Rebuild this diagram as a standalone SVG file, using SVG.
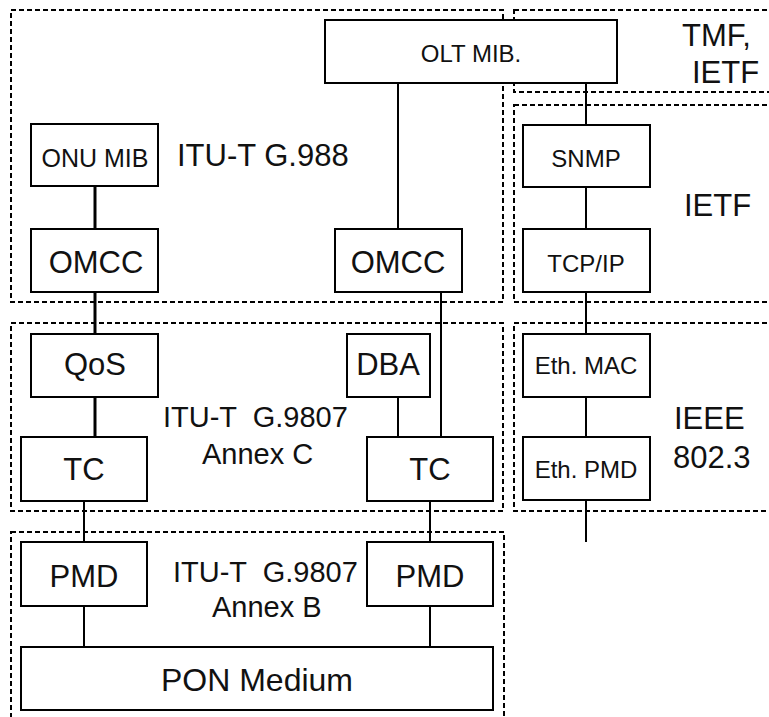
<svg xmlns="http://www.w3.org/2000/svg" width="769" height="717" viewBox="0 0 769 717">
<style>
.grp{fill:none;stroke:#000;stroke-width:2;stroke-dasharray:5 3}
.box{fill:#fff;stroke:#000;stroke-width:2}
.ln{fill:none;stroke:#000;stroke-width:2}
.lnb{fill:none;stroke:#000;stroke-width:3}
text{font-family:"Liberation Sans",Arial,sans-serif;fill:#111}
.s{font-size:24px;text-anchor:middle}
.m{font-size:31px;text-anchor:middle}
.l{font-size:31px}
.g{font-size:29px}
</style>
<rect width="769" height="717" fill="#fff"/>
<g id="groups">
<rect class="grp" x="11" y="10" width="492" height="292"/>
<rect class="grp" x="514" y="10" width="280" height="82"/>
<rect class="grp" x="514" y="105" width="280" height="197"/>
<rect class="grp" x="11" y="323" width="492" height="188"/>
<rect class="grp" x="514" y="323" width="280" height="188"/>
<rect class="grp" x="11" y="532" width="493" height="200"/>
</g>
<g id="connectors">
<line class="lnb" x1="95" y1="186" x2="95" y2="229"/>
<line class="lnb" x1="95" y1="292" x2="95" y2="334"/>
<line class="lnb" x1="95" y1="397" x2="95" y2="437"/>
<line class="ln" x1="84" y1="501" x2="84" y2="542"/>
<line class="ln" x1="84" y1="606" x2="84" y2="647"/>
<line class="ln" x1="398" y1="83" x2="398" y2="229"/>
<line class="ln" x1="441" y1="292" x2="441" y2="437"/>
<line class="ln" x1="398" y1="397" x2="398" y2="437"/>
<line class="ln" x1="430" y1="501" x2="430" y2="542"/>
<line class="ln" x1="430" y1="606" x2="430" y2="647"/>
<line class="ln" x1="586" y1="83" x2="586" y2="125"/>
<line class="ln" x1="586" y1="187" x2="586" y2="229"/>
<line class="ln" x1="586" y1="292" x2="586" y2="334"/>
<line class="ln" x1="586" y1="397" x2="586" y2="437"/>
<line class="ln" x1="586" y1="500" x2="586" y2="542"/>
</g>
<g id="olt-mib"><rect class="box" x="325" y="20" width="292" height="63"/><text class="s" x="471" y="62">OLT MIB.</text></g>
<g id="onu-mib"><rect class="box" x="31" y="124" width="127" height="62"/><text class="s" x="95" y="167" style="font-size:25px">ONU MIB</text></g>
<g id="omcc-left"><rect class="box" x="31" y="229" width="127" height="63"/><text class="m" x="96" y="273">OMCC</text></g>
<g id="omcc-right"><rect class="box" x="335" y="229" width="127" height="63"/><text class="m" x="398" y="273">OMCC</text></g>
<g id="snmp"><rect class="box" x="523" y="125" width="127" height="62"/><text class="s" x="586" y="167">SNMP</text></g>
<g id="tcpip"><rect class="box" x="523" y="229" width="127" height="63"/><text class="s" x="586" y="272">TCP/IP</text></g>
<g id="qos"><rect class="box" x="31" y="334" width="127" height="63"/><text class="m" x="95" y="375">QoS</text></g>
<g id="dba"><rect class="box" x="347" y="334" width="83" height="63"/><text class="m" x="388" y="375">DBA</text></g>
<g id="tc-left"><rect class="box" x="21" y="437" width="126" height="64"/><text class="m" x="84" y="480">TC</text></g>
<g id="tc-right"><rect class="box" x="367" y="437" width="126" height="64"/><text class="m" x="430" y="480">TC</text></g>
<g id="eth-mac"><rect class="box" x="523" y="334" width="127" height="63"/><text class="s" x="586" y="374">Eth. MAC</text></g>
<g id="eth-pmd"><rect class="box" x="523" y="437" width="127" height="63"/><text class="s" x="586" y="478">Eth. PMD</text></g>
<g id="pmd-left"><rect class="box" x="21" y="542" width="126" height="64"/><text class="m" x="84" y="587">PMD</text></g>
<g id="pmd-right"><rect class="box" x="367" y="542" width="126" height="64"/><text class="m" x="430" y="587">PMD</text></g>
<g id="pon-medium"><rect class="box" x="21" y="647" width="472" height="63"/><text class="m" x="257" y="691" style="font-size:32px">PON Medium</text></g>
<g id="labels">
<text class="l" x="177" y="166">ITU-T G.988</text>
<text class="l" x="682" y="46">TMF,</text>
<text class="l" x="692" y="83">IETF</text>
<text class="l" x="684" y="216">IETF</text>
<text class="g" x="163" y="427" xml:space="preserve">ITU-T  G.9807</text>
<text class="g" x="202" y="464">Annex C</text>
<text class="l" x="674" y="429">IEEE</text>
<text class="l" x="673" y="468">802.3</text>
<text class="g" x="173" y="582" xml:space="preserve">ITU-T  G.9807</text>
<text class="g" x="212" y="617">Annex B</text>
</g>
</svg>
